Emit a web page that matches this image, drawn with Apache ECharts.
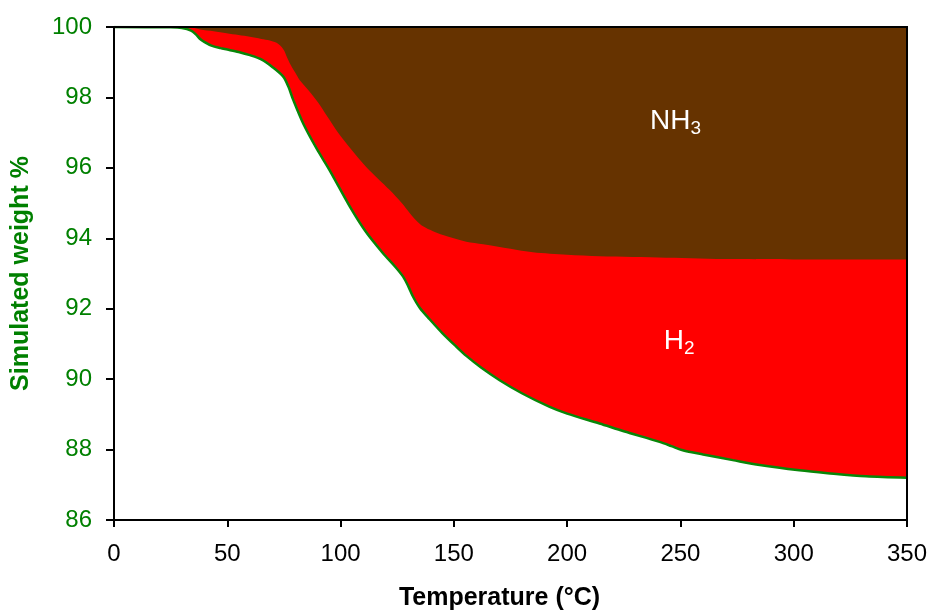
<!DOCTYPE html>
<html>
<head>
<meta charset="utf-8">
<script src="https://cdn.jsdelivr.net/npm/echarts@6/dist/echarts.min.js"></script>
<style>
  html, body { margin: 0; padding: 0; background: #fff; }
  #chart { width: 932px; height: 610px; }
</style>
</head>
<body>
<div id="chart"></div>
<script>
// Simulated TGA curve: remaining weight (%) vs temperature (°C)
const totalTemps = [0, 25, 30, 34, 36, 38, 40, 43, 47, 50, 55, 60, 65, 70, 74.7, 77, 79.1, 83.5, 89.4, 95, 104.1, 111, 118.8, 124, 127.6, 130, 132, 135, 139.3, 145, 151.1, 155.5, 162, 170.2, 180, 192.3, 200, 214.3, 225, 240.8, 246, 251, 260, 273.1, 285, 302.5, 315, 331.9, 350];
const totalWeight = [100, 99.99, 99.97, 99.9, 99.8, 99.66, 99.57, 99.47, 99.4, 99.36, 99.29, 99.2, 99.08, 98.86, 98.59, 98.3, 97.93, 97.26, 96.55, 95.95, 94.9, 94.2, 93.57, 93.2, 92.91, 92.62, 92.34, 92.02, 91.7, 91.3, 90.92, 90.66, 90.33, 89.97, 89.6, 89.21, 89.02, 88.74, 88.52, 88.22, 88.1, 87.98, 87.86, 87.7, 87.56, 87.41, 87.33, 87.24, 87.2];

// Weight left after NH3 release only (upper edge of the H2 band)
const nh3Temps = [0, 33, 38, 44, 49.7, 55, 60, 65, 68.8, 71.5, 73.2, 75, 76.1, 78, 80.6, 82, 86, 90, 94, 99, 104, 111.4, 121.7, 127, 130.5, 133.5, 136.4, 140.8, 145.2, 155.5, 162.9, 175, 184.9, 200, 214.3, 243.7, 273.1, 300, 350];
const nh3Weight = [100, 100, 99.93, 99.88, 99.82, 99.77, 99.72, 99.66, 99.62, 99.56, 99.48, 99.34, 99.18, 98.92, 98.64, 98.49, 98.19, 97.86, 97.47, 96.99, 96.58, 96.02, 95.37, 95.0, 94.72, 94.5, 94.34, 94.2, 94.09, 93.9, 93.83, 93.7, 93.6, 93.53, 93.49, 93.45, 93.41, 93.4, 93.4];

// Gas labels: [temperature, weight, name, subscript]
const gasLabels = [
  [247.8, 97.33, 'NH', '3'],
  [249.4, 91.08, 'H', '2']
];

const xTicks = { min: 0, max: 350, interval: 50 };
const yTicks = { min: 86, max: 100, interval: 2 };

const FONT = 'Liberation Sans, Arial, sans-serif';
const pair = (xs, ys) => xs.map((x, i) => [x, ys[i]]);
const SMOOTH = 0.3;

const chart = echarts.init(document.getElementById('chart'), null, { renderer: 'canvas' });

chart.setOption({
  animation: false,
  backgroundColor: '#ffffff',
  grid: {
    left: 114, top: 27, right: 25, bottom: 90,
    outerBoundsMode: 'none',
    containLabel: false,
    show: true,
    backgroundColor: 'transparent',
    borderColor: '#000',
    borderWidth: 2,
    z: 10
  },
  xAxis: {
    type: 'value',
    min: xTicks.min, max: xTicks.max, interval: xTicks.interval,
    name: 'Temperature (°C)',
    nameLocation: 'middle',
    nameGap: 66,
    nameTextStyle: { fontFamily: FONT, fontSize: 25, fontWeight: 'bold', color: '#000', padding: [0, 22, 0, 0] },
    axisLine: { show: true, lineStyle: { color: '#000', width: 2 } },
    axisTick: { show: true, inside: false, length: 7, lineStyle: { color: '#000', width: 2 } },
    axisLabel: { fontFamily: FONT, fontSize: 24, color: '#000', margin: 22 },
    splitLine: { show: false },
    z: 11
  },
  yAxis: {
    type: 'value',
    min: yTicks.min, max: yTicks.max, interval: yTicks.interval,
    name: 'Simulated weight %',
    nameLocation: 'middle',
    nameGap: 80,
    nameRotate: 90,
    nameTextStyle: { fontFamily: FONT, fontSize: 25, fontWeight: 'bold', color: '#008000' },
    axisLine: { show: true, lineStyle: { color: '#000', width: 2 } },
    axisTick: { show: true, inside: false, length: 8, lineStyle: { color: '#000', width: 2 } },
    axisLabel: { fontFamily: FONT, fontSize: 24, color: '#008000', margin: 22 },
    splitLine: { show: false },
    z: 11
  },
  series: [
    {
      // H2 band: everything above the total-weight curve, later covered by NH3
      type: 'line',
      data: pair(totalTemps, totalWeight),
      smooth: SMOOTH,
      showSymbol: false,
      lineStyle: { width: 0 },
      areaStyle: { color: '#ff0000', opacity: 1, origin: 'end' },
      z: 1,
      silent: true
    },
    {
      // NH3 band: from the NH3-only curve up to 100 %
      type: 'line',
      data: pair(nh3Temps, nh3Weight),
      smooth: SMOOTH,
      showSymbol: false,
      lineStyle: { width: 0 },
      areaStyle: { color: '#663300', opacity: 1, origin: 'end' },
      z: 2,
      silent: true
    },
    {
      // total weight curve
      type: 'line',
      data: pair(totalTemps, totalWeight),
      smooth: SMOOTH,
      showSymbol: false,
      lineStyle: { width: 2.5, color: '#088608' },
      z: 3,
      silent: true
    },
    {
      type: 'scatter',
      data: gasLabels.map(g => [g[0], g[1], g[2], g[3]]),
      symbolSize: 0,
      silent: true,
      itemStyle: { opacity: 1, color: 'transparent' },
      z: 4,
      label: {
        show: true,
        position: 'inside',
        color: '#ffffff',
        opacity: 1,
        textBorderWidth: 0,
        textShadowBlur: 0,
        formatter: p => '{m|' + p.data[2] + '}{s|' + p.data[3] + '}',
        rich: {
          m: { fontFamily: FONT, fontSize: 28, color: '#ffffff', lineHeight: 34, textBorderWidth: 0 },
          s: { fontFamily: FONT, fontSize: 19, color: '#ffffff', lineHeight: 12, verticalAlign: 'bottom', textBorderWidth: 0 }
        }
      }
    }
  ]
});
</script>
</body>
</html>
